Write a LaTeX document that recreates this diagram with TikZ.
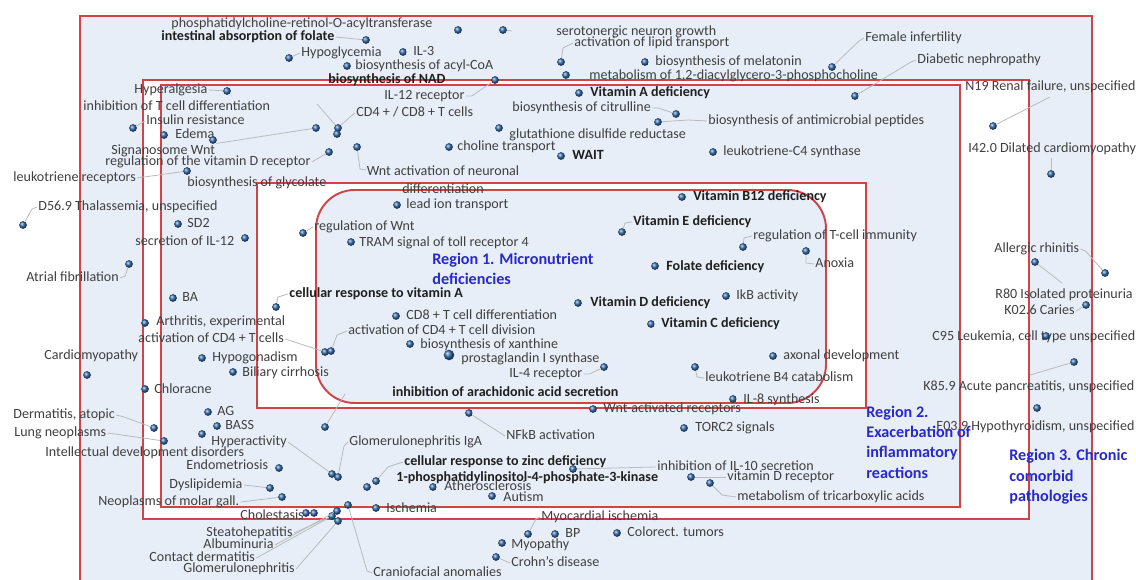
\documentclass[tikz,border=0pt]{standalone}
\usepackage{fontspec}
\setmainfont{Carlito}
\definecolor{regred}{RGB}{208,68,72}
\definecolor{paleblue}{RGB}{231,238,248}
\definecolor{regblue}{RGB}{40,40,205}
\definecolor{dotblue}{RGB}{50,105,170}
\definecolor{txtgray}{RGB}{64,64,64}

\begin{document}
\begin{tikzpicture}[x=0.02cm,y=-0.02cm,
  dot/.style={circle,inner sep=0pt,minimum size=4.4pt,ball color=dotblue},
  bigdot/.style={dot,minimum size=6pt},
  lbl/.style={anchor=west,inner sep=0.6pt,text=txtgray,text height=5.6pt,text depth=1.4pt,font=\fontsize{8}{9.5}\selectfont},
  blbl/.style={lbl,text=black!88,font=\fontsize{8}{9.5}\selectfont\bfseries},
  lbltwo/.style={inner sep=0.6pt,text=txtgray,align=center,font=\fontsize{8}{10.2}\selectfont},
  region/.style={anchor=west,align=left,inner sep=0pt,text=regblue,font=\fontsize{9.2}{11.6}\selectfont\bfseries},
  lead/.style={draw=black!27,line width=0.45pt},
  frame/.style={draw=regred,line width=1.1pt}]
\useasboundingbox (0,0) rectangle (1136,580);
\fill[white] (0,0) rectangle (1136,580);

\fill[paleblue] (80,16) rectangle (1092,580);
\draw[frame] (80,580) -- (80,16) -- (1092,16) -- (1092,580);
\draw[frame,fill=white] (143,80) rectangle (1029,519);
\draw[frame,fill=paleblue] (161,85) rectangle (960,507);
\draw[frame,fill=white] (257,183) rectangle (866,408);
\draw[frame,fill=paleblue,rounded corners=22pt] (316,190) rectangle (826,403);

\node[lbl] (pcr) at (170,24) {phosphatidylcholine-retinol-O-acyltransferase};
\node[dot] (dpcr) at (458,30) {};
\node[blbl] (iaf) at (160,37) {intestinal absorption of folate};
\node[dot] (diaf) at (366,40) {};
\node[lbl] (hypgl) at (300,53) {Hypoglycemia};
\node[dot] (dhypgl) at (289,58) {};
\node[lbl] (il3) at (412,52) {IL-3};
\node[dot] (dil3) at (403,52) {};
\node[lbl] (acyl) at (354,66) {biosynthesis of acyl-CoA};
\node[dot] (dacyl) at (347,66) {};
\node[blbl] (nad) at (327,80) {biosynthesis of NAD};
\node[lbl] (il12r) at (383,96) {IL-12 receptor};
\node[dot] (dil12r) at (495,80) {};
\node[lbl] (sero) at (555,32) {serotonergic neuron growth};
\node[dot] (dsero) at (503,30) {};
\coordinate (csero) at (512,31);
\node[lbl] (lipid) at (573,43) {activation of lipid transport};
\node[dot] (dlipid) at (561,62) {};
\node[lbl] (mela) at (654,62) {biosynthesis of melatonin};
\node[dot] (dmela) at (645,62) {};
\node[lbl] (pcho) at (588,76) {metabolism of 1,2-diacylglycero-3-phosphocholine};
\node[dot] (dpcho) at (566,75) {};
\node[blbl] (vita) at (589,93) {Vitamin A deficiency};
\node[dot] (dvita) at (579,93) {};
\node[lbl] (citr) at (511,108) {biosynthesis of citrulline};
\node[dot] (dcitr) at (676,114) {};
\node[lbl] (amp) at (707,121) {biosynthesis of antimicrobial peptides};
\node[dot] (damp) at (658,122) {};
\node[lbl] (glut) at (508,135) {glutathione disulfide reductase};
\node[dot] (dglut) at (499,128) {};
\node[lbl] (cholt) at (456,147) {choline transport};
\node[dot] (dcholt) at (449,147) {};
\node[blbl] (wait) at (571,156) {WAIT};
\node[dot] (dwait) at (561,156) {};
\node[lbl] (ltc4) at (722,152) {leukotriene-C4 synthase};
\node[dot] (dltc4) at (713,152) {};

\node[lbl] (fem) at (864,38) {Female infertility};
\node[dot] (dfem) at (832,67) {};
\node[lbl] (diab) at (916,60) {Diabetic nephropathy};
\node[dot] (ddiab) at (855,96) {};
\node[lbl] (n19) at (964,87) {N19 Renal failure, unspecified};
\node[dot] (dn19) at (993,126) {};
\coordinate (cn19) at (1050,97);
\node[lbl] (i42) at (967,149) {I42.0 Dilated cardiomyopathy};
\node[dot] (di42) at (1051,174) {};
\coordinate (ci42) at (1051,158);

\node[lbl] (hypal) at (133,90) {Hyperalgesia};
\node[dot] (dhypal) at (227,91) {};
\node[lbl] (inht) at (82,107) {inhibition of T cell differentiation};
\node[lbl] (insul) at (145,121) {Insulin resistance};
\node[dot] (dinsul) at (133,128) {};
\node[lbl] (edema) at (174,135) {Edema};
\node[dot] (dedema) at (164,135) {};
\node[dot] (dedemb) at (213,140) {};
\node[lbl] (cd4) at (355,113) {CD4 + / CD8 + T cells};
\node[dot] (dcd4a) at (338,128) {};
\node[dot] (dcd4b) at (337,134) {};
\node[dot] (dsig) at (316,128) {};
\coordinate (cinht) at (317,104);
\node[lbl] (sig) at (110,151) {Signanosome Wnt};
\node[lbl] (vdr) at (104,162) {regulation of the vitamin D receptor};
\node[dot] (dvdr) at (329,152) {};
\node[dot] (dwnt) at (357,147) {};
\node[lbltwo] (wnt) at (443,180) {Wnt activation of neuronal\\differentiation};
\node[lbl] (ltr) at (12,178) {leukotriene receptors};
\node[dot] (dltr) at (187,171) {};
\node[lbl] (glyc) at (186,183) {biosynthesis of glycolate};

\node[lbl] (thal) at (37,207) {D56.9 Thalassemia, unspecified};
\node[dot] (dthal) at (23,225) {};
\node[lbl] (sd2) at (186,224) {SD2};
\node[dot] (dsd2) at (178,224) {};
\node[lbl] (il12s) at (134,242) {secretion of IL-12};
\node[dot] (dil12s) at (245,238) {};
\node[lbl] (atrial) at (25,278) {Atrial fibrillation};
\node[dot] (datrial) at (129,264) {};
\node[lbl] (regwnt) at (313,227) {regulation of Wnt};
\node[dot] (dregwnt) at (303,233) {};
\node[lbl] (tram) at (358,243) {TRAM signal of toll receptor 4};
\node[dot] (dtram) at (351,242) {};
\node[lbl] (leadion) at (405,205) {lead ion transport};
\node[dot] (dleadion) at (397,205) {};
\node[lbl] (ba) at (181,298) {BA};
\node[dot] (dba) at (173,298) {};
\node[blbl] (crva) at (288,294) {cellular response to vitamin A};
\node[dot] (dcrva) at (276,307) {};
\node[lbl] (arth) at (155,322) {Arthritis, experimental};
\node[dot] (darth) at (145,323) {};
\node[lbl] (acd4) at (137,339) {activation of CD4 + T cells};
\node[dot] (dacd4a) at (325,352) {};
\node[dot] (dacd4b) at (331,351) {};
\node[lbl] (acd4d) at (347,331) {activation of CD4 + T cell division};
\node[lbl] (cardio) at (43,356) {Cardiomyopathy};
\node[dot] (dcardio) at (87,375) {};
\node[lbl] (hypgo) at (211,358) {Hypogonadism};
\node[dot] (dhypgo) at (202,358) {};
\node[lbl] (bili) at (241,373) {Biliary cirrhosis};
\node[dot] (dbili) at (233,372) {};
\node[lbl] (chlor) at (153,390) {Chloracne};
\node[dot] (dchlor) at (145,389) {};

\node[region] (reg1) at (432,269) {Region 1. Micronutrient\\deficiencies};
\node[blbl] (b12) at (692,197) {Vitamin B12 deficiency};
\node[dot] (db12) at (682,197) {};
\node[blbl] (vite) at (632,222) {Vitamin E deficiency};
\node[dot] (dvite) at (622,232) {};
\node[lbl] (regt) at (752,236) {regulation of T-cell immunity};
\node[dot] (dregt) at (743,247) {};
\node[blbl] (fol) at (665,267) {Folate deficiency};
\node[dot] (dfol) at (655,266) {};
\node[lbl] (ikb) at (735,296) {IkB activity};
\node[dot] (dikb) at (726,296) {};
\node[blbl] (vitd) at (589,303) {Vitamin D deficiency};
\node[dot] (dvitd) at (578,303) {};
\node[blbl] (vitc) at (660,324) {Vitamin C deficiency};
\node[dot] (dvitc) at (651,324) {};
\node[lbl] (cd8) at (405,316) {CD8 + T cell differentiation};
\node[dot] (dcd8) at (396,316) {};
\node[lbl] (xan) at (419,345) {biosynthesis of xanthine};
\node[dot] (dxan) at (410,344) {};
\node[lbl] (prost) at (460,359) {prostaglandin I synthase};
\node[bigdot] (dprost) at (449,355) {};
\node[lbl] (il4) at (508,374) {IL-4 receptor};
\node[dot] (dil4) at (604,367) {};
\node[lbl] (ltb4) at (704,378) {leukotriene B4 catabolism};
\node[dot] (dltb4) at (695,367) {};
\node[lbl] (anox) at (814,264) {Anoxia};
\node[dot] (danox) at (806,251) {};
\node[lbl] (axon) at (782,356) {axonal development};
\node[dot] (daxon) at (773,356) {};
\node[blbl] (arach) at (391,393) {inhibition of arachidonic acid secretion};
\node[dot] (darach) at (325,427) {};
\coordinate (carach) at (345,394);
\node[lbl] (il8) at (742,400) {IL-8 synthesis};
\node[dot] (dil8) at (733,399) {};

\node[lbl] (wntrec) at (602,409) {Wnt-activated receptors};
\node[dot] (dwntrec) at (593,409) {};
\node[lbl] (nfkb) at (505,436) {NFkB activation};
\node[dot] (dnfkb) at (469,413) {};
\node[lbl] (torc) at (694,428) {TORC2 signals};
\node[dot] (dtorc) at (684,428) {};
\node[region] (reg2) at (866,442) {Region 2.\\Exacerbation of\\inflammatory\\reactions};
\node[lbl] (ag) at (216,412) {AG};
\node[dot] (dag) at (208,412) {};
\node[lbl] (bass) at (224,426) {BASS};
\node[dot] (dbass) at (217,426) {};
\node[lbl] (derm) at (12,415) {Dermatitis, atopic};
\node[dot] (dderm) at (154,428) {};
\node[lbl] (lung) at (13,433) {Lung neoplasms};
\node[dot] (dlung) at (164,441) {};
\node[lbl] (hypact) at (210,442) {Hyperactivity};
\node[dot] (dhypact) at (202,434) {};
\node[lbl] (intel) at (44,453) {Intellectual development disorders};
\node[lbl] (endo) at (185,466) {Endometriosis};
\node[dot] (dendo) at (279,468) {};
\node[lbl] (dysl) at (168,485) {Dyslipidemia};
\node[dot] (ddysl) at (270,488) {};
\node[lbl] (neo) at (97,502) {Neoplasms of molar gall.};
\node[dot] (dneo) at (282,497) {};
\node[lbl] (glomiga) at (348,442) {Glomerulonephritis IgA};
\node[dot] (dglomiga) at (332,474) {};
\node[dot] (dglomigb) at (338,477) {};
\node[blbl] (czinc) at (403,462) {cellular response to zinc deficiency};
\node[dot] (dczinca) at (367,487) {};
\node[dot] (dczincb) at (376,481) {};
\node[blbl] (pik) at (395,478) {1-phosphatidylinositol-4-phosphate-3-kinase};
\node[lbl] (ather) at (443,487) {Atherosclerosis};
\node[dot] (dather) at (433,487) {};
\node[lbl] (autism) at (502,498) {Autism};
\node[dot] (dautism) at (492,496) {};
\node[lbl] (isch) at (385,509) {Ischemia};
\node[dot] (disch) at (376,508) {};
\node[lbl] (il10) at (656,467) {inhibition of IL-10 secretion};
\node[dot] (dil10) at (573,469) {};
\node[lbl] (vdrec) at (726,477) {vitamin D receptor};
\node[dot] (dvdrec) at (691,477) {};
\node[lbl] (tca) at (736,497) {metabolism of tricarboxylic acids};
\node[dot] (dtca) at (710,483) {};

\node[lbl] (chole) at (239,516) {Cholestasis};
\node[dot] (dcholea) at (306,513) {};
\node[dot] (dcholeb) at (314,513) {};
\node[dot] (dclua) at (337,511) {};
\node[dot] (dclub) at (332,516) {};
\node[dot] (dcluc) at (338,521) {};
\node[lbl] (steato) at (205,533) {Steatohepatitis};
\node[lbl] (albu) at (202,545) {Albuminuria};
\node[lbl] (contact) at (148,558) {Contact dermatitis};
\node[lbl] (glom) at (182,569) {Glomerulonephritis};
\node[dot] (dcranio) at (348,505) {};
\node[lbl] (cranio) at (372,573) {Craniofacial anomalies};
\node[lbl] (myoc) at (540,517) {Myocardial ischemia};
\node[dot] (dmyoc) at (528,534) {};
\node[lbl] (bp) at (564,534) {BP};
\node[dot] (dbp) at (555,534) {};
\node[lbl] (colo) at (626,533) {Colorect. tumors};
\node[dot] (dcolo) at (617,533) {};
\node[lbl] (myop) at (510,545) {Myopathy};
\node[dot] (dmyop) at (502,543) {};
\node[lbl] (crohn) at (510,563) {Crohn's disease};
\node[dot] (dcrohn) at (496,557) {};

\node[lbl] (allerg) at (993,249) {Allergic rhinitis};
\node[dot] (dallerg) at (1105,273) {};
\node[lbl] (r80) at (994,295) {R80 Isolated proteinuria};
\node[dot] (dr80) at (1035,262) {};
\coordinate (cr80) at (1062,283);
\node[lbl] (caries) at (1003,311) {K02.6 Caries};
\node[dot] (dcaries) at (1086,305) {};
\node[lbl] (c95) at (931,337) {C95 Leukemia, cell type unspecified};
\node[dot] (dc95) at (1046,336) {};
\node[lbl] (k85) at (922,387) {K85.9 Acute pancreatitis, unspecified};
\node[dot] (dk85) at (1074,362) {};
\coordinate (ck85) at (1030,375);
\node[lbl] (e03) at (935,427) {E03.9 Hypothyroidism, unspecified};
\node[dot] (de03) at (1037,408) {};
\node[region] (reg3) at (1009,477) {Region 3. Chronic\\comorbid\\pathologies};

\draw[lead] (iaf.east) -- (diaf);
\draw[lead] (dhypgl) -- (hypgl.west);
\draw[lead] (il12r.east) -- ++(6,0) -- (dil12r);
\draw[lead] (dsero) -- (csero);
\draw[lead] (dlipid) -- ++(2,-14) -- (lipid.west);
\draw[lead] (citr.east) -- ++(6,0) -- (dcitr);
\draw[lead] (damp) -- ++(30,-2) -- (amp.west);
\draw[lead] (fem.west) -- ++(-5,3) -- (dfem);
\draw[lead] (diab.west) -- ++(-5,2) -- (ddiab);
\draw[lead] (cn19) -- (dn19);
\draw[lead] (ci42) -- (di42);
\draw[lead] (hypal.east) -- (dhypal);
\draw[lead] (dinsul) -- (insul.west);
\draw[lead] (cinht) -- (dcd4a);
\draw[lead] (cd4.west) -- ++(-5,4) -- (dcd4a);
\draw[lead] (sig.north east) -- (dsig);
\draw[lead] (vdr.east) -- (dvdr);
\draw[lead] (ltr.east) -- (dltr);
\draw[lead] (dwnt) -- ++(3,22) -- ++(6,1);
\draw[lead] (thal.west) -- ++(-5,2) -- (dthal);
\draw[lead] (atrial.east) -- ++(5,-2) -- (datrial);
\draw[lead] (dregwnt) -- (regwnt.west);
\draw[lead] (dcrva) -- ++(2,-10) -- (crva.west);
\draw[lead] (acd4.east) -- (dacd4a);
\draw[lead] (dacd4b) -- ++(6,-16) -- (acd4d.west);
\draw[lead] (dvite) -- ++(3,-9) -- (vite.west);
\draw[lead] (dregt) -- ++(1,-9) -- (regt.west);
\draw[lead] (il4.east) -- ++(6,0) -- (dil4);
\draw[lead] (dltb4) -- ++(2,10) -- (ltb4.west);
\draw[lead] (danox) -- ++(0,12) -- (anox.west);
\draw[lead] (darach) -- (carach);
\draw[lead] (dnfkb) -- (nfkb.west);
\draw[lead] (derm.east) -- ++(8,2) -- (dderm);
\draw[lead] (lung.east) -- (dlung);
\draw[lead] (hypact.east) -- (dglomiga);
\draw[lead] (dysl.east) -- (ddysl);
\draw[lead] (neo.east) -- (dneo);
\draw[lead] (glomiga.west) -- ++(-4,4) -- (dglomigb);
\draw[lead] (dczincb) -- ++(12,-14) -- (czinc.west);
\draw[lead] (dil10) -- (il10.west);
\draw[lead] (dvdrec) -- (vdrec.west);
\draw[lead] (dtca) -- ++(12,12) -- (tca.west);
\draw[lead] (steato.east) -- (dclub);
\draw[lead] (albu.east) -- (dclua);
\draw[lead] (contact.east) -- (dclub);
\draw[lead] (glom.east) -- (dcluc);
\draw[lead] (cranio.west) -- ++(-5,-2) -- (dcranio);
\draw[lead] (myoc.west) -- ++(-4,2) -- (dmyoc);
\draw[lead] (dcrohn) -- (crohn.west);
\draw[lead] (allerg.east) -- ++(5,2) -- (dallerg);
\draw[lead] (dr80) -- (cr80);
\draw[lead] (caries.east) -- (dcaries);
\draw[lead] (dk85) -- (ck85);
\end{tikzpicture}
\end{document}
